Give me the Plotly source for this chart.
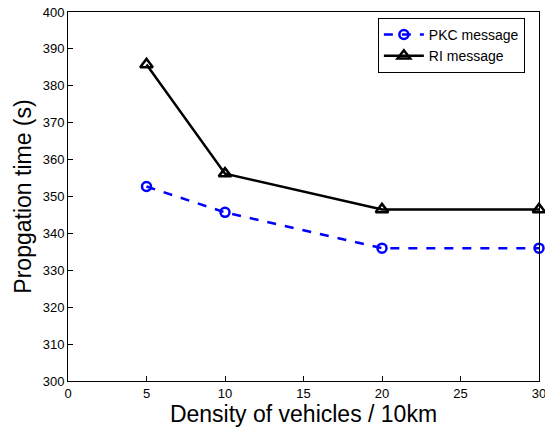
import plotly.graph_objects as go

density = [5, 10, 20, 30]
pkc_time = [352.7, 345.7, 336.0, 336.0]
ri_time = [385.8, 356.2, 346.5, 346.5]
x_ticks = [0, 5, 10, 15, 20, 25, 30]
y_ticks = [300, 310, 320, 330, 340, 350, 360, 370, 380, 390, 400]

FONT = "Liberation Sans, Arial"

fig = go.Figure()
fig.add_trace(go.Scatter(
    x=density, y=pkc_time, name="PKC message", mode="lines+markers",
    line=dict(color="#0000ff", width=2.5, dash="dash"),
    marker=dict(symbol="circle-open", size=9, color="#0000ff", line=dict(width=2.5)),
    cliponaxis=False,
))
fig.add_trace(go.Scatter(
    x=density, y=ri_time, name="RI message", mode="lines+markers",
    line=dict(color="black", width=2.5),
    marker=dict(symbol="triangle-up-open", size=11, color="black", line=dict(width=2.5)),
    cliponaxis=False,
))

axis_common = dict(
    showline=True, linecolor="black", linewidth=1, mirror=True,
    ticks="inside", ticklen=5, tickcolor="black", showgrid=False, zeroline=False,
    tickfont=dict(family=FONT, size=13, color="black"),
    ticklabeloverflow="allow",
)
fig.update_xaxes(range=[0, 30], tickvals=x_ticks, automargin=False,
                 title=dict(text="Density of vehicles / 10km", standoff=0,
                            font=dict(family=FONT, size=23, color="black")),
                 **axis_common)
fig.update_yaxes(range=[300, 400], tickvals=y_ticks, automargin=False,
                 title=dict(text="Propgation time (s)", standoff=4,
                            font=dict(family=FONT, size=23, color="black")),
                 **axis_common)
fig.update_layout(
    width=545, height=428,
    margin=dict(l=68, r=6, t=12, b=47),
    plot_bgcolor="white", paper_bgcolor="white",
    legend=dict(x=0.97, y=0.984, xanchor="right", yanchor="top",
                bordercolor="black", borderwidth=1, bgcolor="white",
                font=dict(family=FONT, size=14, color="black"),
                tracegroupgap=0, itemwidth=40),
)
fig.write_html("out.html", config={"displayModeBar": False},
               post_script="document.body.style.margin='0';")
